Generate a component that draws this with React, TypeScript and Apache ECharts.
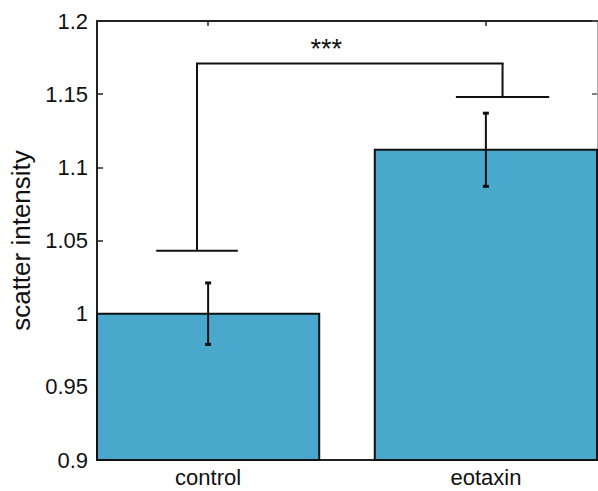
import React, { useEffect, useRef } from "react";
import * as echarts from "echarts";

const categories = ["control", "eotaxin"];
const categoryX = [1, 2];
const means = [1.0, 1.112];
const errLow = [0.979, 1.087];
const errHigh = [1.021, 1.137];
const yTicks = [0.9, 0.95, 1, 1.05, 1.1, 1.15, 1.2];
// significance bracket
const bracketX = [0.96, 2.06];
const bracketBaseY = [1.043, 1.148];
const bracketCapHalf = [0.147, 0.168];
const bracketTopY = 1.171;
const sigLabel = "***";
const sigPos = [1.425, 1.181];

const FONT = "Liberation Sans, Arial, Helvetica, sans-serif";

export default function App() {
  const ref = useRef<HTMLDivElement>(null);
  useEffect(() => {
    if (!ref.current) return;
    const chart = echarts.init(ref.current, null, { renderer: "svg" });
    const barData = categoryX.map((x, i) => [x, means[i]]);
    const errData = categoryX.map((x, i) => [x, errLow[i], errHigh[i]]);
    const bracketData = bracketX.map((x, i) => [x, bracketBaseY[i], bracketCapHalf[i]]);
    const option: any = {
      animation: false,
      backgroundColor: "#ffffff",
      grid: { left: 97, right: 1, top: 21, bottom: 31, containLabel: false },
      xAxis: [
        {
          type: "value",
          min: 0.6,
          max: 2.4,
          position: "bottom",
          axisLine: { show: true, onZero: false, lineStyle: { color: "#222", width: 2 } },
          axisTick: { show: true, inside: true, length: 5, customValues: categoryX, lineStyle: { color: "#222", width: 1.5 } },
          axisLabel: {
            show: true,
            customValues: categoryX,
            formatter: (v: number) => categories[categoryX.indexOf(Math.round(v))] ?? "",
            color: "#111",
            fontSize: 22,
            fontFamily: FONT,
            margin: 6,
          },
          splitLine: { show: false },
        },
        {
          type: "value",
          min: 0.6,
          max: 2.4,
          position: "top",
          axisLine: { show: true, onZero: false, lineStyle: { color: "#222", width: 2 } },
          axisTick: { show: true, inside: true, length: 5, customValues: categoryX, lineStyle: { color: "#222", width: 1.5 } },
          axisLabel: { show: false },
          splitLine: { show: false },
        },
      ],
      yAxis: [
        {
          type: "value",
          min: 0.9,
          max: 1.2,
          interval: 0.05,
          position: "left",
          name: "scatter intensity",
          nameLocation: "middle",
          nameGap: 63,
          nameTextStyle: { color: "#111", fontSize: 26, fontFamily: FONT },
          axisLine: { show: true, onZero: false, lineStyle: { color: "#222", width: 2 } },
          axisTick: { show: true, inside: true, length: 6, lineStyle: { color: "#222", width: 1.5 } },
          axisLabel: {
            color: "#111",
            fontSize: 22,
            fontFamily: FONT,
            margin: 9,
            formatter: (v: number) => String(parseFloat(v.toFixed(2))),
          },
          splitLine: { show: false },
        },
        {
          type: "value",
          min: 0.9,
          max: 1.2,
          interval: 0.05,
          position: "right",
          axisLine: { show: true, onZero: false, lineStyle: { color: "#aaa", width: 1 } },
          axisTick: { show: true, inside: true, length: 5, lineStyle: { color: "#555", width: 1.5 } },
          axisLabel: { show: false },
          splitLine: { show: false },
        },
      ],
      series: [
        {
          type: "custom",
          name: "bars",
          xAxisIndex: 0,
          yAxisIndex: 0,
          data: barData,
          renderItem: (params: any, api: any) => {
            const x = api.value(0);
            const v = api.value(1);
            const p1 = api.coord([x - 0.4, v]);
            const p2 = api.coord([x + 0.4, yTicks[0]]);
            return {
              type: "rect",
              shape: { x: p1[0], y: p1[1], width: p2[0] - p1[0], height: p2[1] - p1[1] },
              style: { fill: "#4AA8CD", stroke: "#111", lineWidth: 2 },
            };
          },
          z: 2,
        },
        {
          type: "custom",
          name: "errors",
          xAxisIndex: 0,
          yAxisIndex: 0,
          data: errData,
          renderItem: (params: any, api: any) => {
            const x = api.value(0);
            const lo = api.coord([x, api.value(1)]);
            const hi = api.coord([x, api.value(2)]);
            const cap = 3;
            const st = { stroke: "#111", lineWidth: 2 };
            return {
              type: "group",
              children: [
                { type: "line", shape: { x1: lo[0], y1: lo[1], x2: hi[0], y2: hi[1] }, style: st },
                { type: "line", shape: { x1: lo[0] - cap, y1: lo[1], x2: lo[0] + cap, y2: lo[1] }, style: { stroke: "#111", lineWidth: 3 } },
                { type: "line", shape: { x1: hi[0] - cap, y1: hi[1], x2: hi[0] + cap, y2: hi[1] }, style: { stroke: "#111", lineWidth: 3 } },
              ],
            };
          },
          z: 3,
        },
        {
          type: "custom",
          name: "bracket",
          xAxisIndex: 0,
          yAxisIndex: 0,
          data: bracketData,
          renderItem: (params: any, api: any) => {
            const x = api.value(0);
            const base = api.value(1);
            const half = api.value(2);
            const b = api.coord([x, base]);
            const t = api.coord([x, bracketTopY]);
            const cl = api.coord([x - half, base]);
            const cr = api.coord([x + half, base]);
            const st = { stroke: "#111", lineWidth: 2 };
            const children: any[] = [
              { type: "line", shape: { x1: b[0], y1: b[1], x2: t[0], y2: t[1] }, style: st },
              { type: "line", shape: { x1: cl[0], y1: cl[1], x2: cr[0], y2: cr[1] }, style: st },
            ];
            if (params.dataIndex === 0) {
              const other = api.coord([bracketX[1], bracketTopY]);
              children.push({ type: "line", shape: { x1: t[0] - 1, y1: t[1], x2: other[0] + 1, y2: other[1] }, style: st });
            }
            return { type: "group", children };
          },
          z: 3,
        },
        {
          type: "custom",
          name: "sig",
          xAxisIndex: 0,
          yAxisIndex: 0,
          data: [sigPos],
          renderItem: (params: any, api: any) => {
            const p = api.coord([api.value(0), api.value(1)]);
            return {
              type: "text",
              x: p[0],
              y: p[1],
              style: { text: sigLabel, fill: "#111", fontSize: 27, fontFamily: FONT, align: "center", verticalAlign: "middle" },
            };
          },
          z: 4,
        },
      ],
    };
    chart.setOption(option);
    return () => chart.dispose();
  }, []);
  return <div ref={ref} style={{ position: "fixed", left: 0, top: 0, width: 598, height: 491 }} />;
}
